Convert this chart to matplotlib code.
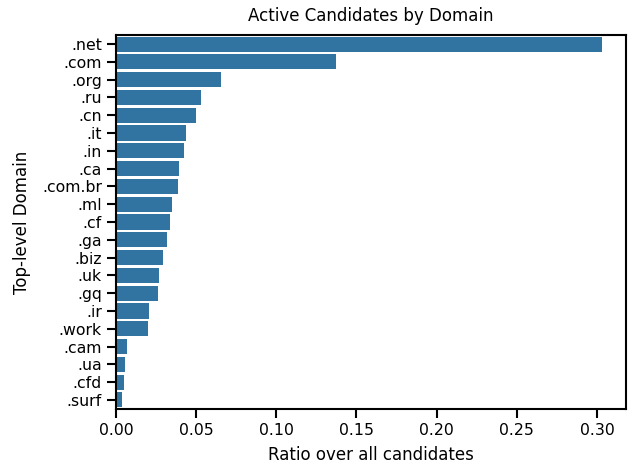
import numpy as np
import matplotlib
matplotlib.use("Agg")
import matplotlib.pyplot as plt

domains = ['.net', '.com', '.org', '.ru', '.cn', '.it', '.in', '.ca', '.com.br', '.ml',
           '.cf', '.ga', '.biz', '.uk', '.gq', '.ir', '.work', '.cam', '.ua', '.cfd', '.surf']
ratios = [0.303, 0.137, 0.0656, 0.0531, 0.0500, 0.0438, 0.0425, 0.0394, 0.0388, 0.0351,
          0.0338, 0.0320, 0.0295, 0.0270, 0.0263, 0.0207, 0.0201, 0.0070, 0.0058, 0.0052, 0.0039]

fig = plt.figure(figsize=(6.33, 4.63), dpi=100)
ax = fig.add_axes([0.183, 0.117, 0.806, 0.807])

pos = np.arange(len(domains))
ax.barh(pos, ratios, height=0.85, color='#3274a1')
ax.set_ylim(len(domains) - 0.5, -0.5)
ax.set_xlim(0, max(ratios) * 1.05)
ax.set_yticks(pos)
ax.set_yticklabels(domains)
ax.set_xticks([0, 0.05, 0.10, 0.15, 0.20, 0.25, 0.30])
ax.set_xticklabels(['0.00', '0.05', '0.10', '0.15', '0.20', '0.25', '0.30'])

for s in ax.spines.values():
    s.set_linewidth(1.5)
ax.tick_params(axis='both', width=1.5, length=6.5, labelsize=11.3)

ax.set_xlabel('Ratio over all candidates', fontsize=12, labelpad=6)
ax.set_ylabel('Top-level Domain', fontsize=12, labelpad=8)
ax.set_title('Active Candidates by Domain', fontsize=12, pad=10)

fig.savefig('out.png', dpi=100)
